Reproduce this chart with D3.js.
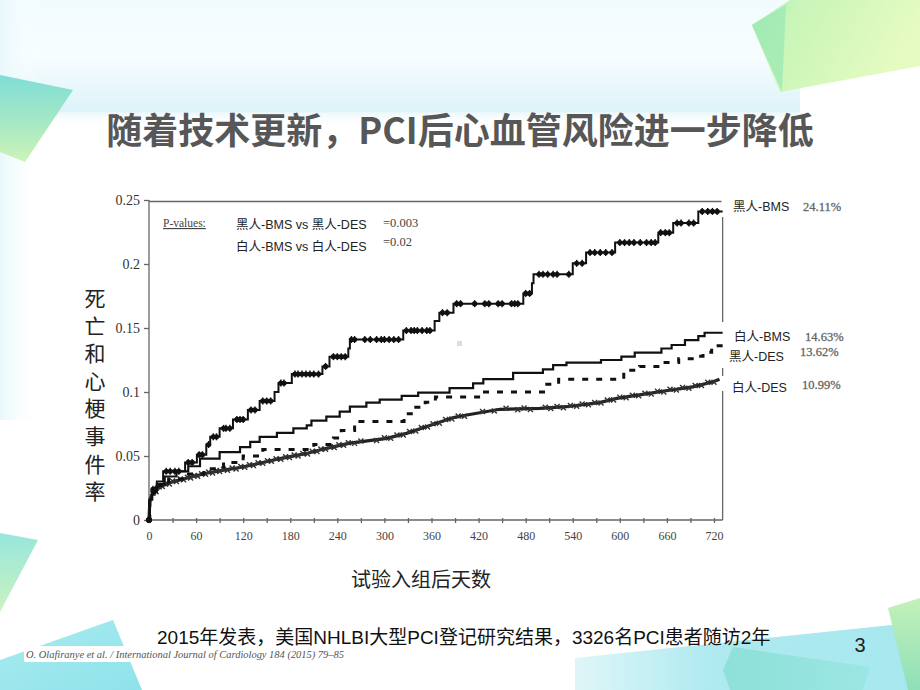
<!DOCTYPE html>
<html>
<head>
<meta charset="utf-8">
<script src="https://cdn.jsdelivr.net/npm/d3@7"></script>
<style>
  body { margin: 0; background: #fff; }
  svg { display: block; }
</style>
</head>
<body>
<svg id="chart" width="920" height="690"></svg>
<script>
//
// Data
//

// x axis: days after enrolment
var xMajorTicks = [0, 60, 120, 180, 240, 300, 360, 420, 480, 540, 600, 660, 720]
var xMinorTicks = [30, 90, 150, 210, 270, 330, 390, 450, 510, 570, 630, 690]
// y axis: cumulative death / MI rate
var yTicks = [0, 0.05, 0.1, 0.15, 0.2, 0.25]
var yTickLabels = ['0', '0.05', '0.1', '0.15', '0.2', '0.25']

// 黑人-BMS (step curve with censor marks)
var blackBmsDays = [0, 1, 4, 10, 18, 46, 61, 73, 78, 90, 107, 126, 141, 160, 165, 182, 221, 230, 254, 256, 324, 364, 370, 388, 477, 488, 490, 540, 557, 594, 649, 668, 700, 731]
var blackBmsRisk = [0, 0.016, 0.024, 0.030, 0.038, 0.045, 0.051, 0.059, 0.065, 0.0716, 0.0786, 0.086, 0.093, 0.100, 0.107, 0.114, 0.120, 0.1276, 0.134, 0.141, 0.148, 0.1555, 0.162, 0.169, 0.177, 0.185, 0.192, 0.2005, 0.209, 0.2167, 0.2245, 0.232, 0.2411, 0.2411]
var blackBmsCensor = [5, 8, 22, 27, 33, 38, 50, 55, 64, 68, 76, 82, 86, 95, 98, 103, 112, 116, 120, 130, 135, 145, 150, 155, 168, 172, 186, 190, 195, 200, 205, 210, 216, 225, 235, 240, 245, 250, 258, 262, 275, 282, 290, 296, 300, 306, 312, 318, 328, 334, 338, 342, 348, 354, 358, 374, 380, 392, 397, 415, 428, 433, 445, 450, 462, 466, 470, 480, 485, 497, 502, 508, 515, 520, 535, 545, 552, 562, 568, 575, 582, 590, 600, 606, 612, 618, 626, 634, 640, 645, 652, 658, 663, 673, 678, 688, 694, 705, 712, 718, 724]

// 白人-BMS (solid step curve)
var whiteBmsDays = [0, 1, 4, 10, 20, 35, 50, 65, 90, 116, 129, 141, 163, 184, 201, 207, 226, 243, 256, 277, 294, 322, 343, 383, 413, 426, 464, 502, 515, 532, 576, 602, 619, 653, 666, 683, 700, 708, 731]
var whiteBmsRisk = [0, 0.016, 0.022, 0.028, 0.034, 0.038, 0.042, 0.048, 0.053, 0.057, 0.061, 0.065, 0.068, 0.0716, 0.074, 0.0776, 0.0807, 0.0846, 0.0885, 0.0917, 0.094, 0.0969, 0.0995, 0.103, 0.1068, 0.110, 0.115, 0.1177, 0.121, 0.123, 0.125, 0.1276, 0.1307, 0.134, 0.1367, 0.1406, 0.1437, 0.1463, 0.1463]

// 黑人-DES (dashed step curve)
var blackDesDays = [0, 1, 4, 12, 25, 45, 70, 95, 120, 145, 210, 235, 245, 262, 325, 340, 352, 365, 420, 505, 522, 605, 625, 655, 675, 695, 706, 717, 731]
var blackDesRisk = [0, 0.015, 0.021, 0.027, 0.032, 0.036, 0.040, 0.045, 0.050, 0.055, 0.059, 0.064, 0.070, 0.077, 0.083, 0.088, 0.092, 0.096, 0.100, 0.106, 0.110, 0.117, 0.120, 0.123, 0.126, 0.128, 0.131, 0.1362, 0.1362]

// 白人-DES (dense curve with many censor marks)
var whiteDesDays = [0, 1, 3, 8, 14, 31, 50, 73, 95, 116, 141, 167, 201, 226, 256, 303, 328, 354, 388, 405, 447, 498, 532, 574, 596, 625, 659, 693, 719, 727]
var whiteDesRisk = [0, 0.014, 0.019, 0.022, 0.026, 0.030, 0.033, 0.0365, 0.039, 0.041, 0.0443, 0.048, 0.052, 0.056, 0.060, 0.0638, 0.0677, 0.073, 0.080, 0.082, 0.0865, 0.0872, 0.0885, 0.0917, 0.095, 0.0977, 0.101, 0.104, 0.108, 0.110]
var whiteDesCensor = [5, 9, 13, 17, 21, 26, 30, 35, 40, 44, 49, 53, 58, 62, 67, 72, 76, 81, 86, 90, 95, 100, 106, 111, 117, 122, 128, 133, 139, 145, 151, 156, 162, 168, 174, 179, 185, 190, 196, 202, 208, 214, 219, 225, 231, 236, 242, 248, 254, 262, 270, 290, 300, 308, 316, 324, 332, 340, 347, 355, 362, 370, 378, 386, 394, 402, 425, 440, 455, 470, 478, 486, 505, 512, 520, 528, 537, 545, 552, 560, 568, 576, 584, 592, 600, 608, 616, 624, 632, 640, 648, 656, 664, 672, 680, 688, 696, 704, 712, 720]

// texts
var titleText = '随着技术更新，PCI后心血管风险进一步降低'
var yLabelChars = ['死', '亡', '和', '心', '梗', '事', '件', '率']
var xLabelText = '试验入组后天数'
var pComparisons = ['黑人-BMS vs 黑人-DES', '白人-BMS vs 白人-DES']
var pValues = ['=0.003', '=0.02']
var endNames = ['黑人-BMS', '白人-BMS', '黑人-DES', '白人-DES']
var endPercents = ['24.11%', '14.63%', '13.62%', '10.99%']
var footText = '2015年发表，美国NHLBI大型PCI登记研究结果，3326名PCI患者随访2年'
var citeText = 'O. Olafiranye et al. / International Journal of Cardiology 184 (2015) 79–85'
var pageNumber = '3'

//
// Setup
//

var svg = d3.select('#chart')
var defs = svg.append('defs')
var sansCjk = '"Liberation Sans", Arial, "Noto Sans CJK SC", sans-serif'
var serif = '"Liberation Serif", "Times New Roman", serif'

function linGrad(id, x1, y1, x2, y2, stops) {
  var g = defs.append('linearGradient').attr('id', id)
    .attr('x1', x1).attr('y1', y1).attr('x2', x2).attr('y2', y2)
  stops.forEach(function (s) {
    g.append('stop').attr('offset', s[0]).attr('stop-color', s[1]).attr('stop-opacity', s[2] == null ? 1 : s[2])
  })
  return 'url(#' + id + ')'
}

//
// Background decorations
//

var bg = svg.append('g')
bg.append('rect').attr('width', 920).attr('height', 690).attr('fill', '#fff')
bg.append('rect').attr('x', 0).attr('y', 0).attr('width', 800).attr('height', 112)
  .attr('fill', linGrad('band', 0, 0, 0, 1, [[0, '#f1fbfd'], [0.5, '#f7fdfe'], [1, '#dcf3f9']]))
bg.append('rect').attr('x', 0).attr('y', 112).attr('width', 800).attr('height', 14)
  .attr('fill', linGrad('bandFade', 0, 0, 0, 1, [[0, '#e9f7fa'], [1, '#ffffff', 0]]))
bg.append('rect').attr('x', 0).attr('y', 0).attr('width', 40).attr('height', 420)
  .attr('fill', linGrad('leftStrip', 0, 0, 1, 0, [[0, '#e8f8fb'], [1, '#ffffff', 0]]))

// top right green sheet
bg.append('polygon').attr('points', '752,25 790,0 920,0 920,66 780,92')
  .attr('fill', linGrad('topRight', 0, 0, 1, 0.3, [[0, '#a3eab2'], [0.25, '#c8f5b8'], [1, '#e6fbc2']]))
bg.append('polygon').attr('points', '752,25 786,5 782,92')
  .attr('fill', '#9fe8b4').attr('opacity', 0.8)

// top left sheet
bg.append('polygon').attr('points', '0,75 73,90 25,162 0,152')
  .attr('fill', linGrad('topLeft', 0, 0, 0, 1, [[0, '#7fded6'], [0.45, '#9fe6c8'], [1, '#cdf4b6']]))

// bottom left sheets
bg.append('polygon').attr('points', '0,533 38,540 0,612')
  .attr('fill', linGrad('bl1', 0, 0, 0, 1, [[0, '#98e6dc'], [1, '#c9f3c0']]))
bg.append('polygon').attr('points', '0,660 113,620 142,690 0,690')
  .attr('fill', linGrad('bl2', 0, 0, 1, 1, [[0, '#a8ecf0'], [1, '#8fe2ea']]))

// bottom right sheets
bg.append('polygon').attr('points', '575,658 920,622 920,690 575,690')
  .attr('fill', linGrad('br1', 0, 0, 1, 0, [[0, '#dff6f8'], [0.4, '#aeeaf0'], [1, '#a6e8ee']]))
bg.append('polygon').attr('points', '723,670 733,647 870,667 863,690 730,690')
  .attr('fill', linGrad('br2', 0, 0, 1, 0, [[0, '#8ee0d8'], [1, '#9be6e4']]))
bg.append('polygon').attr('points', '888,608 920,598 920,690 908,690')
  .attr('fill', linGrad('br3', 0, 0, 0, 1, [[0, '#c2f1b8'], [1, '#8fdfb8']]))

//
// Title
//

svg.append('text')
  .attr('x', 460).attr('y', 144)
  .attr('text-anchor', 'middle')
  .attr('font-family', '"Noto Sans CJK SC", sans-serif')
  .attr('font-weight', 700)
  .attr('font-size', 36)
  .attr('fill', '#575757')
  .text(titleText)

//
// Chart
//

var x = d3.scaleLinear().domain([0, 720]).range([149, 714])
var y = d3.scaleLinear().domain([0, 0.25]).range([520, 200])
var xEnd = x(731)

var chart = svg.append('g')

// frame
var frameColor = '#666'
chart.append('line').attr('x1', x(0)).attr('x2', xEnd).attr('y1', 201.5).attr('y2', 201.5)
  .attr('stroke', frameColor).attr('stroke-width', 1.3)
chart.append('line').attr('x1', xEnd).attr('x2', xEnd).attr('y1', 201).attr('y2', y(0))
  .attr('stroke', frameColor).attr('stroke-width', 1.3)

// axes
var yAxis = d3.axisLeft(y).tickValues(yTicks).tickSize(5).tickPadding(4)
  .tickFormat(function (d, i) { return yTickLabels[i] })
var gy = chart.append('g').attr('transform', 'translate(' + x(0) + ',0)').call(yAxis)
gy.select('.domain').attr('d', 'M0,' + y(0.25) + 'V' + y(0))
gy.selectAll('text').attr('font-family', serif).attr('font-size', 14).attr('fill', '#333')
gy.selectAll('line').attr('stroke', frameColor)

var xAxis = d3.axisBottom(x).tickValues(xMajorTicks).tickSize(3).tickPadding(8)
var gx = chart.append('g').attr('transform', 'translate(0,' + y(0) + ')').call(xAxis)
gx.select('.domain').attr('d', 'M' + x(0) + ',0H' + xEnd)
gx.selectAll('text').attr('font-family', serif).attr('font-size', 12).attr('fill', '#444')
gx.selectAll('.tick line').attr('y1', -2)
var gxMinor = chart.append('g').attr('transform', 'translate(0,' + y(0) + ')')
  .call(d3.axisBottom(x).tickValues(xMinorTicks).tickSize(3).tickFormat(''))
gxMinor.select('.domain').remove()
gxMinor.selectAll('.tick line').attr('y1', -2)
chart.selectAll('.domain, .tick line').attr('stroke', frameColor).attr('stroke-width', 1.3)

// white label boxes sitting over the right frame
var boxes = [[199, 18], [322, 46], [376, 15]]
boxes.forEach(function (b) {
  chart.append('rect').attr('x', 721.5).attr('y', b[0]).attr('width', 130).attr('height', b[1]).attr('fill', '#fff')
})

// small gray artefact square
chart.append('rect').attr('x', 457).attr('y', 341).attr('width', 5).attr('height', 5).attr('fill', '#ddd')

// curves
function series(days, risk) {
  return days.map(function (d, i) { return [d, risk[i]] })
}
function stepValue(days, risk, d) {
  var i = d3.bisectRight(days, d) - 1
  return risk[Math.max(0, i)]
}

var stepLine = d3.line().curve(d3.curveStepAfter)
  .x(function (d) { return x(d[0]) }).y(function (d) { return y(d[1]) })
var smoothLine = d3.line()
  .x(function (d) { return x(d[0]) }).y(function (d) { return y(d[1]) })

var curves = chart.append('g').attr('fill', 'none').attr('stroke', '#111')

// 白人-DES
curves.append('path').attr('d', smoothLine(series(whiteDesDays, whiteDesRisk)))
  .attr('stroke-width', 3.2).attr('stroke', '#222')
var wdInterp = d3.scaleLinear().domain(whiteDesDays).range(whiteDesRisk)
curves.selectAll('.wd').data(whiteDesCensor).enter().append('path')
  .attr('class', 'wd')
  .attr('d', function (d, i) {
    var cx = x(d), cy = y(wdInterp(d)) + (i % 2 ? 0.8 : -0.8)
    return 'M' + (cx - 2.5) + ',' + (cy - 2.5) + 'L' + (cx + 2.5) + ',' + (cy + 2.5) +
      'M' + (cx - 2.5) + ',' + (cy + 2.5) + 'L' + (cx + 2.5) + ',' + (cy - 2.5)
  })
  .attr('stroke', '#333').attr('stroke-width', 1.4)

// 黑人-DES
curves.append('path').attr('d', stepLine(series(blackDesDays, blackDesRisk)))
  .attr('stroke-width', 3).attr('stroke-dasharray', '6,8')

// 白人-BMS
curves.append('path').attr('d', stepLine(series(whiteBmsDays, whiteBmsRisk)))
  .attr('stroke-width', 2.2)

// 黑人-BMS
curves.append('path').attr('d', stepLine(series(blackBmsDays, blackBmsRisk)))
  .attr('stroke-width', 2)
var bbMarks = curves.selectAll('.bb').data(blackBmsCensor).enter().append('g')
  .attr('class', 'bb')
  .attr('transform', function (d) {
    return 'translate(' + x(d) + ',' + y(stepValue(blackBmsDays, blackBmsRisk, d)) + ')'
  })
bbMarks.append('circle').attr('r', 2.6).attr('fill', '#111').attr('stroke', 'none')
bbMarks.append('line').attr('y1', -3.5).attr('y2', 3.5).attr('stroke-width', 1.4)

// vertical jump at day 0
curves.append('circle').attr('cx', x(0)).attr('cy', y(0)).attr('r', 2.8).attr('fill', '#111')

// P-values block
var pv = chart.append('g')
pv.append('text').attr('x', 163).attr('y', 227)
  .attr('font-family', serif).attr('font-size', 11.5).attr('fill', '#444')
  .attr('text-decoration', 'underline').text('P-values:')
pv.selectAll('.cmp').data(pComparisons).enter().append('text')
  .attr('class', 'cmp')
  .attr('x', 236).attr('y', function (d, i) { return 228.5 + i * 22.5 })
  .attr('font-family', sansCjk).attr('font-size', 12.5).attr('fill', '#222')
  .text(function (d) { return d })
pv.selectAll('.pv').data(pValues).enter().append('text')
  .attr('class', 'pv')
  .attr('x', 383).attr('y', function (d, i) { return 227 + i * 18.5 })
  .attr('font-family', serif).attr('font-size', 12.5).attr('fill', '#444')
  .text(function (d) { return d })

// end-of-curve labels
var nameY = [210.5, 340.5, 360.5, 391.5]
var nameX = [733, 734, 729, 732]
var pctY = [210.5, 340.5, 356, 389]
var pctX = [803, 805, 800, 802]
var ends = chart.append('g')
endNames.forEach(function (n, i) {
  ends.append('text').attr('x', nameX[i]).attr('y', nameY[i])
    .attr('font-family', sansCjk).attr('font-size', 12.5).attr('fill', '#222').text(n)
  ends.append('text').attr('x', pctX[i]).attr('y', pctY[i])
    .attr('font-family', serif).attr('font-size', 12.5).attr('fill', '#555')
    .attr('stroke', '#777').attr('stroke-width', 0.3).text(endPercents[i])
})

// axis titles
chart.selectAll('.ylab').data(yLabelChars).enter().append('text')
  .attr('class', 'ylab')
  .attr('x', 95).attr('y', function (d, i) { return 306 + i * 27.6 })
  .attr('text-anchor', 'middle')
  .attr('font-family', '"Noto Sans CJK SC", sans-serif').attr('font-size', 21).attr('fill', '#222')
  .text(function (d) { return d })

chart.append('text').attr('x', 421).attr('y', 587)
  .attr('text-anchor', 'middle')
  .attr('font-family', '"Noto Sans CJK SC", sans-serif').attr('font-size', 20).attr('fill', '#222')
  .text(xLabelText)

//
// Footer
//

svg.append('text').attr('x', 157).attr('y', 644)
  .attr('font-family', sansCjk).attr('font-size', 19).attr('fill', '#111')
  .text(footText)

svg.append('rect').attr('x', 24).attr('y', 646).attr('width', 322).attr('height', 16).attr('fill', '#fff')
svg.append('text').attr('x', 26).attr('y', 658)
  .attr('font-family', serif).attr('font-style', 'italic').attr('font-size', 11).attr('fill', '#555')
  .attr('textLength', 318).attr('lengthAdjust', 'spacingAndGlyphs')
  .text(citeText)

svg.append('text').attr('x', 860).attr('y', 652)
  .attr('text-anchor', 'middle')
  .attr('font-family', sansCjk).attr('font-size', 20).attr('fill', '#222')
  .text(pageNumber)
</script>
</body>
</html>
